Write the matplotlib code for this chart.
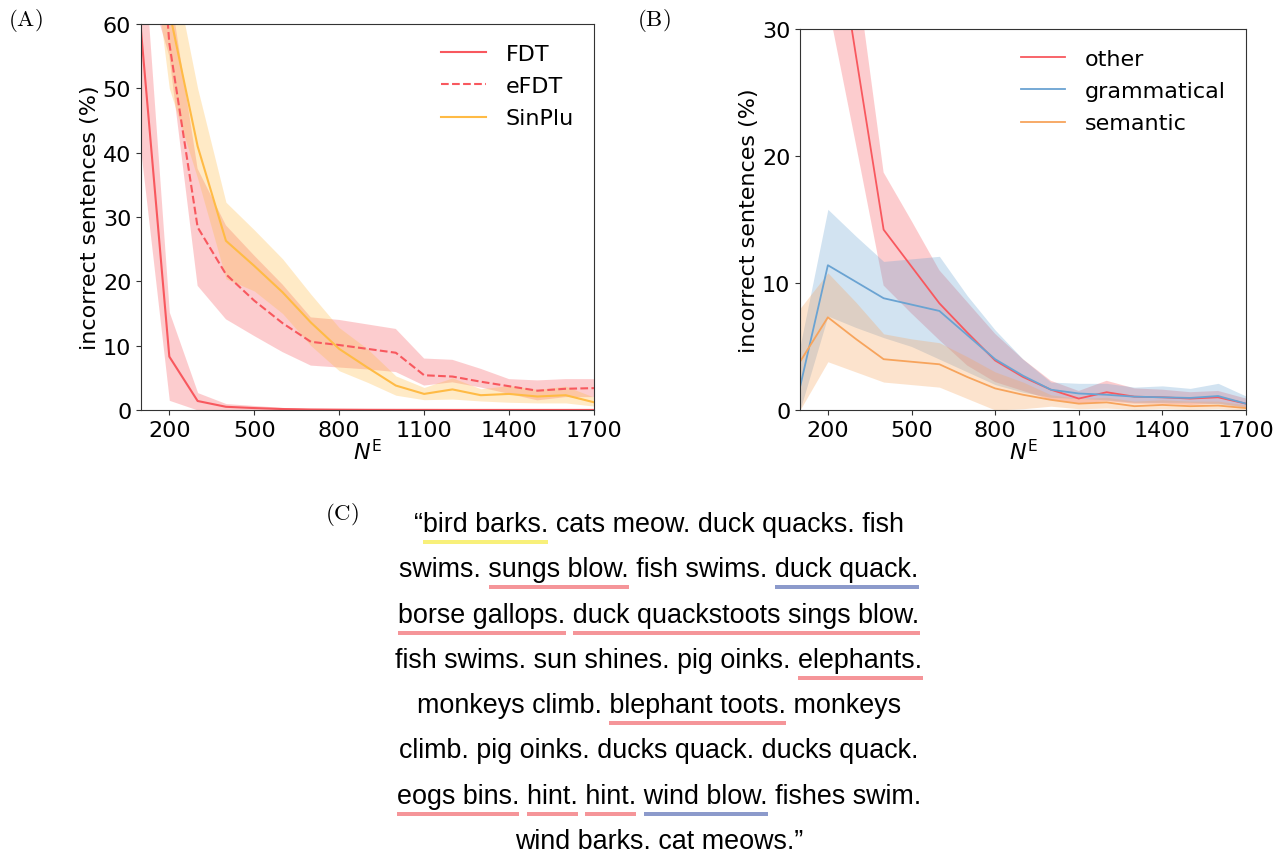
import matplotlib
matplotlib.use("Agg")
import matplotlib.pyplot as plt
from matplotlib.lines import Line2D
from matplotlib.font_manager import FontProperties

# ---------------- data ----------------
n_e = [100, 200, 300, 400, 500, 600, 700, 800, 900, 1000, 1100, 1200, 1300, 1400, 1500, 1600, 1700]

fdt_mean = [59, 8.3, 1.4, 0.5, 0.3, 0.15, 0.08, 0.05, 0.03, 0.02, 0.02, 0.01, 0.01, 0.01, 0.01, 0.01, 0.01]
fdt_lo = [40, 1.5, 0, 0, 0, 0, 0, 0, 0, 0, 0, 0, 0, 0, 0, 0, 0]
fdt_hi = [77, 15.2, 2.7, 1.0, 0.7, 0.4, 0.2, 0.1, 0.1, 0.05, 0.05, 0.05, 0.05, 0.05, 0.05, 0.05, 0.05]

efdt_mean = [115, 57, 28.4, 21.1, 17.0, 13.5, 10.6, 10.1, 9.5, 8.9, 5.4, 5.2, 4.4, 3.7, 3.0, 3.3, 3.4]
efdt_lo = [70, 55, 19.3, 14.1, 11.5, 9.0, 6.9, 6.6, 6.3, 5.9, 3.8, 4.3, 3.5, 2.5, 1.5, 2.0, 2.0]
efdt_hi = [140, 66, 37.5, 28.7, 24.0, 19.5, 14.4, 14.0, 13.3, 12.6, 8.0, 7.8, 6.4, 4.8, 4.6, 4.8, 4.8]

sinplu_mean = [100, 62, 41, 26.3, 22.4, 18.3, 13.6, 9.5, 6.6, 3.8, 2.5, 3.2, 2.3, 2.5, 2.1, 2.3, 1.2]
sinplu_lo = [85, 50, 36, 20.4, 18.5, 15.0, 10.0, 6.1, 4.3, 2.3, 1.6, 1.7, 1.4, 1.2, 1.1, 1.1, 0.6]
sinplu_hi = [120, 72, 50, 32.3, 28.0, 23.5, 18.0, 12.8, 9.5, 5.3, 3.5, 5.0, 3.3, 3.8, 3.2, 3.7, 2.0]

other_mean = [70, 42, 28, 14.2, 11.3, 8.4, 6.1, 3.9, 2.6, 1.6, 0.9, 1.4, 1.05, 1.0, 0.9, 1.0, 0.5]
other_lo = [55, 32, 21, 9.8, 7.6, 5.5, 3.5, 2.2, 1.5, 0.8, 0.5, 0.7, 0.5, 0.5, 0.4, 0.5, 0.2]
other_hi = [90, 55, 35, 18.7, 14.9, 11.0, 8.5, 6.0, 4.0, 2.3, 1.5, 2.3, 1.7, 1.6, 1.4, 1.5, 0.9]

gram_mean = [1.8, 11.4, 10.1, 8.8, 8.3, 7.8, 5.9, 4.0, 2.7, 1.6, 1.3, 1.2, 1.05, 1.0, 0.95, 1.1, 0.5]
gram_lo = [0, 7.4, 6.5, 5.7, 5.0, 4.0, 3.0, 2.0, 1.4, 1.0, 0.9, 0.8, 0.6, 0.6, 0.6, 0.5, 0.2]
gram_hi = [5, 15.8, 13.7, 11.7, 11.9, 12.1, 9.0, 6.3, 4.0, 2.2, 2.1, 2.1, 1.8, 1.9, 1.7, 2.1, 1.1]

sem_mean = [3.8, 7.3, 5.6, 4.0, 3.8, 3.6, 2.6, 1.7, 1.2, 0.8, 0.5, 0.6, 0.3, 0.4, 0.3, 0.35, 0.15]
sem_lo = [0, 3.8, 3.0, 2.2, 2.0, 1.8, 0.9, 0.0, 0.1, 0.3, 0.1, 0.15, 0.05, 0.1, 0.05, 0.1, 0.0]
sem_hi = [8.0, 10.8, 8.5, 6.0, 5.6, 5.3, 4.2, 3.0, 2.2, 1.2, 0.9, 1.0, 0.7, 0.8, 0.7, 0.7, 0.4]

x_ticks = [200, 500, 800, 1100, 1400, 1700]
y_ticks_a = [0, 10, 20, 30, 40, 50, 60]
y_ticks_b = [0, 10, 20, 30]

sentence_lines = [
    "\u201cbird barks. cats meow. duck quacks. fish",
    "swims. sungs blow. fish swims. duck quack.",
    "borse gallops. duck quackstoots sings blow.",
    "fish swims. sun shines. pig oinks. elephants.",
    "monkeys climb. blephant toots. monkeys",
    "climb. pig oinks. ducks quack. ducks quack.",
    "eogs bins. hint. hint. wind blow. fishes swim.",
    "wind barks. cat meows.\u201d",
]
# (line index, underlined phrase, kind) in reading order
underlines = [
    (0, "bird barks.", "yellow"),
    (1, "sungs blow.", "red"),
    (1, "duck quack.", "blue"),
    (2, "borse gallops.", "red"),
    (2, "duck quackstoots sings blow.", "red"),
    (3, "elephants.", "red"),
    (4, "blephant toots.", "red"),
    (6, "eogs bins.", "red"),
    (6, "hint.", "red"),
    (6, "hint.", "red"),
    (6, "wind blow.", "blue"),
]

# ---------------- styles ----------------
RED = "#f8585e"
ORANGE_A = "#ffbb45"
BLUE = "#6aa3d2"
ORANGE_B = "#f7a45c"
UL_COLORS = {"yellow": "#f8f07a", "red": "#f59599", "blue": "#8c9acb"}
SPINE = "#333333"

W, H = 1280, 854
fig = plt.figure(figsize=(12.8, 8.54), dpi=100)


def rect(l, t, r, b):
    return [l / W, 1 - b / H, (r - l) / W, (b - t) / H]


FS = 16


def style(ax):
    for s in ax.spines.values():
        s.set_color(SPINE)
    ax.tick_params(labelsize=FS, color=SPINE)
    ax.set_xlim(100, 1700)
    ax.set_xticks(x_ticks)
    ax.set_ylabel("incorrect sentences (%)", fontsize=FS, labelpad=2)
    ax.set_xlabel(r"$N^{\mathrm{E}}$", fontsize=FS, labelpad=-1)
    ax.legend(loc="upper right", frameon=False, fontsize=16, labelspacing=0.55,
              handletextpad=0.9)


# ---------------- panel A ----------------
axA = fig.add_axes(rect(141, 25, 594, 411))
axA.fill_between(n_e, fdt_lo, fdt_hi, color=RED, alpha=0.3, lw=0)
axA.fill_between(n_e, efdt_lo, efdt_hi, color=RED, alpha=0.3, lw=0)
axA.fill_between(n_e, sinplu_lo, sinplu_hi, color=ORANGE_A, alpha=0.3, lw=0)
axA.plot(n_e, fdt_mean, color=RED, lw=1.5, label="FDT")
axA.plot(n_e, efdt_mean, color=RED, lw=1.5, ls="--", label="eFDT")
axA.plot(n_e, sinplu_mean, color=ORANGE_A, lw=1.5, label="SinPlu")
axA.set_ylim(0, 60)
axA.set_yticks(y_ticks_a)
style(axA)

# ---------------- panel B ----------------
axB = fig.add_axes(rect(800, 30, 1246, 411))
axB.fill_between(n_e, other_lo, other_hi, color=RED, alpha=0.3, lw=0)
axB.fill_between(n_e, gram_lo, gram_hi, color=BLUE, alpha=0.3, lw=0)
axB.fill_between(n_e, sem_lo, sem_hi, color=ORANGE_B, alpha=0.3, lw=0)
axB.plot(n_e, other_mean, color=RED, lw=1.3, label="other")
axB.plot(n_e, gram_mean, color=BLUE, lw=1.3, label="grammatical")
axB.plot(n_e, sem_mean, color=ORANGE_B, lw=1.3, label="semantic")
axB.set_ylim(0, 30)
axB.set_yticks(y_ticks_b)
style(axB)

# ---------------- panel labels ----------------
for lab, px, py in [("A", 8, 21), ("B", 637, 21), ("C", 325, 515)]:
    fig.text(px / W, 1 - py / H, r"$\mathrm{(%s)}$" % lab, math_fontfamily="cm",
             fontsize=16.5, ha="left", va="center")

# ---------------- panel C: sentence text ----------------
prop = FontProperties(family="Liberation Sans", size=19.4)
renderer = fig.canvas.get_renderer()


def text_w(s):
    w, h, d = renderer.get_text_width_height_descent(s, prop, ismath=False)
    return w


CX = 659
BASE0 = 532
STEP = 45.3
UL_OFF = 11
search_pos = {}
line_left = {}
for i, line in enumerate(sentence_lines):
    yb = BASE0 + STEP * i
    fig.text(CX / W, 1 - yb / H, line, fontproperties=prop, ha="center",
             va="baseline", color="black")
    line_left[i] = CX - text_w(line) / 2

for (i, phrase, kind) in underlines:
    line = sentence_lines[i]
    start = line.find(phrase, search_pos.get(i, 0))
    search_pos[i] = start + len(phrase)
    upto = line[:start + len(phrase)]
    x1 = line_left[i] + text_w(upto)
    x0 = x1 - text_w(phrase)
    yu = BASE0 + STEP * i + UL_OFF
    fig.add_artist(Line2D([x0 / W, x1 / W], [1 - yu / H, 1 - yu / H],
                          transform=fig.transFigure, color=UL_COLORS[kind],
                          lw=4 * 72 / 100, solid_capstyle="butt"))

fig.savefig("out.png", dpi=100)
